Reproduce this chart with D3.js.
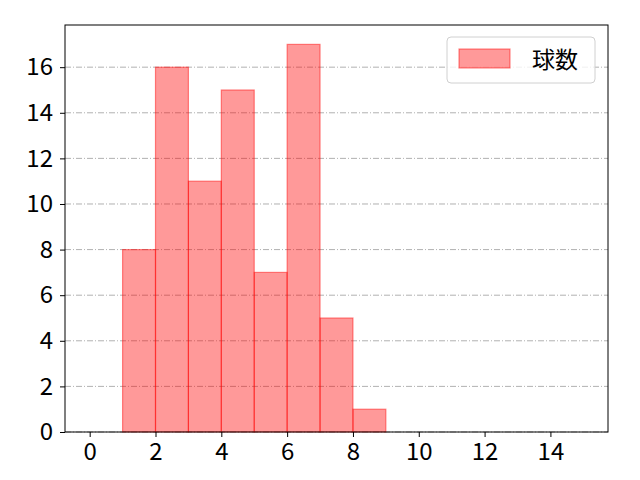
<!DOCTYPE html>
<html><head><meta charset="utf-8">
<script src="https://cdn.jsdelivr.net/npm/d3@7"></script>
<style>body{margin:0;background:#fff}</style>
</head><body>
<svg id="c" width="640" height="480"></svg>
<script>
const binStarts = [1,2,3,4,5,6,7,8];
const counts = [8,16,11,15,7,17,5,1];
const xTicks = [0,2,4,6,8,10,12,14];
const yTicks = [0,2,4,6,8,10,12,14,16];
const seriesName = "球数";

const L=65,T=25,R=608,B=432;
const svg=d3.select("#c");
const x=d3.scaleLinear().domain([-0.75,15.75]).range([L,R]);
const y=d3.scaleLinear().domain([0,17.85]).range([B,T]);
const font="'Noto Sans CJK JP','Noto Sans',sans-serif";

// grid
svg.append("g").selectAll("line").data(yTicks).join("line")
 .attr("x1",L).attr("x2",R).attr("y1",d=>y(d)).attr("y2",d=>y(d))
 .attr("stroke","#a8a8a8").attr("stroke-width",0.9).attr("stroke-dasharray","6,2,1,2");

// bars
svg.append("g").selectAll("rect").data(binStarts).join("rect")
 .attr("x",(d)=>x(d)).attr("width",d=>x(d+1)-x(d))
 .attr("y",(d,i)=>y(counts[i])).attr("height",(d,i)=>y(0)-y(counts[i]))
 .attr("fill","rgba(255,0,0,0.4)").attr("stroke","rgba(255,0,0,0.45)").attr("stroke-width",1.2);

// axes
const xa=svg.append("g").attr("transform",`translate(0,${B})`)
 .call(d3.axisBottom(x).tickValues(xTicks).tickSize(5).tickPadding(6).tickFormat(d3.format("d")));
const ya=svg.append("g").attr("transform",`translate(${L},0)`)
 .call(d3.axisLeft(y).tickValues(yTicks).tickSize(5).tickPadding(7).tickFormat(d3.format("d")));
[xa,ya].forEach(a=>{a.select(".domain").remove();a.selectAll("text").attr("font-size",24).attr("font-family",font).attr("fill","#000");a.selectAll("line").attr("stroke","#000").attr("stroke-width",1);});

svg.append("rect").attr("x",L).attr("y",T).attr("width",R-L).attr("height",B-T)
 .attr("fill","none").attr("stroke","#000").attr("stroke-width",1);

// legend
const lg=svg.append("g");
lg.append("rect").attr("x",447).attr("y",37).attr("width",148).attr("height",46).attr("rx",4)
 .attr("fill","rgba(255,255,255,0.8)").attr("stroke","#d0d0d0");
lg.append("rect").attr("x",459).attr("y",49).attr("width",51).attr("height",19)
 .attr("fill","rgba(255,0,0,0.4)").attr("stroke","rgba(255,0,0,0.45)").attr("stroke-width",1.2);
lg.append("text").attr("x",532).attr("y",68).text(seriesName)
 .attr("font-size",23).attr("font-family",font).attr("fill","#000");
</script>
</body></html>
